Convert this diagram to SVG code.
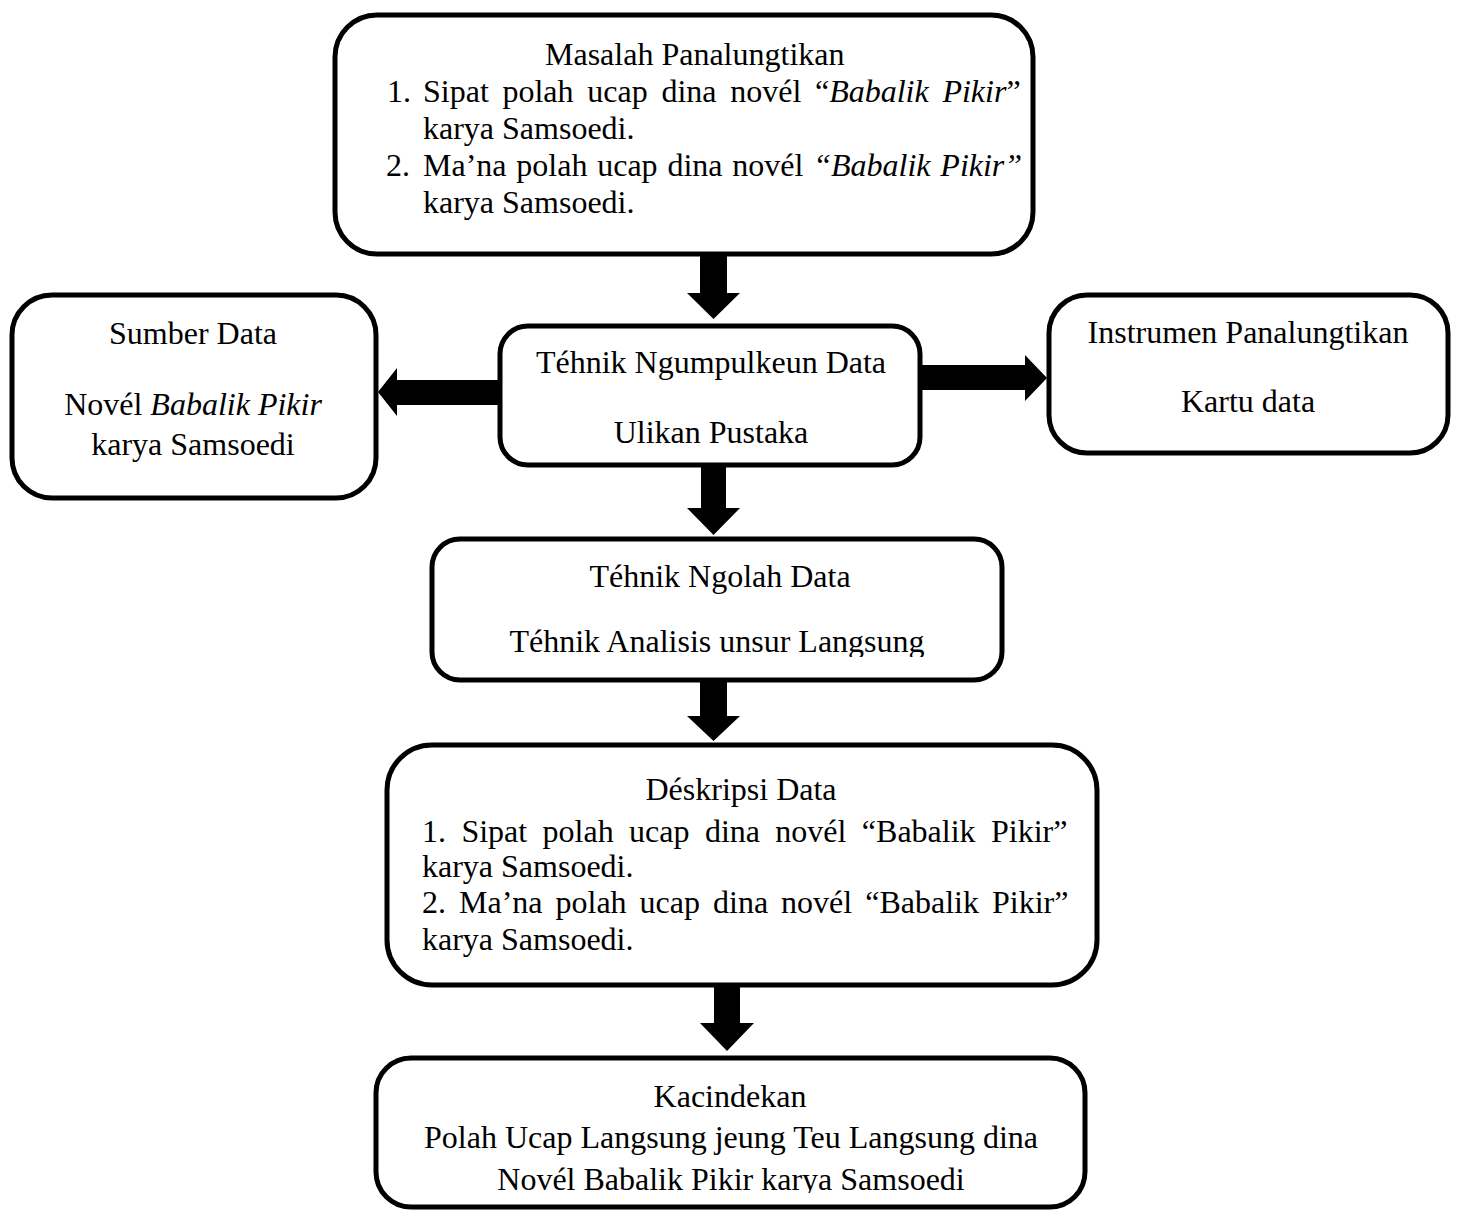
<svg xmlns="http://www.w3.org/2000/svg" width="1460" height="1211" viewBox="0 0 1460 1211">
<style>
.box{fill:#fff;stroke:#000;stroke-width:5}
.t{font-family:"Liberation Serif","Times New Roman",serif;font-size:32px;fill:#000}
.c{text-anchor:middle}
.i{font-style:italic}
.arr{fill:#000;stroke:none}
</style>
<defs>
<clipPath id="clipNgolah"><rect x="432" y="539" width="570" height="118"/></clipPath>
<clipPath id="clipKac"><rect x="376" y="1058" width="709" height="135"/></clipPath>
</defs>
<rect width="1460" height="1211" fill="#fff"/>
<g id="connectors">
<polygon class="arr" points="700,254 727,254 727,293 740,293 713.5,319 687,293 700,293"/>
<polygon class="arr" points="701,465 726,465 726,508 740,508 713.5,535 687,508 701,508"/>
<polygon class="arr" points="700,680 727,680 727,716 740,716 713.5,741 687,716 700,716"/>
<polygon class="arr" points="714,985 740,985 740,1023 754,1023 727,1051 700,1023 714,1023"/>
<polygon class="arr" points="500,380 397,380 397,368 378,392 397,416 397,405 500,405"/>
<polygon class="arr" points="920,365 1025,365 1025,355 1047,378 1025,401 1025,390 920,390"/>
</g>
<g id="masalah">
<rect class="box" x="335" y="15" width="698" height="239" rx="42"/>
<text class="t" x="545" y="65">Masalah Panalungtikan</text>
<text class="t" x="387" y="102">1.</text>
<text class="t" x="423" y="102" style="word-spacing:5.7px">Sipat polah ucap dina novél “<tspan class="i">Babalik Pikir</tspan>”</text>
<text class="t" x="423" y="139">karya Samsoedi.</text>
<text class="t" x="386" y="176">2.</text>
<text class="t" x="423" y="176" style="word-spacing:1.8px">Ma’na polah ucap dina novél <tspan class="i">“Babalik Pikir”</tspan></text>
<text class="t" x="423" y="213">karya Samsoedi.</text>
</g>
<g id="sumber">
<rect class="box" x="12" y="295" width="364" height="203" rx="40"/>
<text class="t c" x="193" y="344">Sumber Data</text>
<text class="t c" x="193" y="415">Novél <tspan class="i">Babalik Pikir</tspan></text>
<text class="t c" x="193" y="455">karya Samsoedi</text>
</g>
<g id="ngumpulkeun">
<rect class="box" x="500" y="326" width="420" height="139" rx="28"/>
<text class="t c" x="711" y="373">Téhnik Ngumpulkeun Data</text>
<text class="t c" x="711" y="443">Ulikan Pustaka</text>
</g>
<g id="instrumen">
<rect class="box" x="1049" y="295" width="399" height="158" rx="38"/>
<text class="t c" x="1248" y="343">Instrumen Panalungtikan</text>
<text class="t c" x="1248" y="412">Kartu data</text>
</g>
<g id="ngolah">
<rect class="box" x="432" y="539" width="570" height="141" rx="28"/>
<text class="t c" x="720" y="587">Téhnik Ngolah Data</text>
<text class="t c" x="717" y="652" clip-path="url(#clipNgolah)">Téhnik Analisis unsur Langsung</text>
</g>
<g id="deskripsi">
<rect class="box" x="387" y="745" width="710" height="240" rx="45"/>
<text class="t c" x="741" y="800">Déskripsi Data</text>
<text class="t" x="422" y="842" style="word-spacing:7.4px">1. Sipat polah ucap dina novél “Babalik Pikir”</text>
<text class="t" x="422" y="877">karya Samsoedi.</text>
<text class="t" x="422" y="913" style="word-spacing:5px">2. Ma’na polah ucap dina novél “Babalik Pikir”</text>
<text class="t" x="422" y="950">karya Samsoedi.</text>
</g>
<g id="kacindekan">
<rect class="box" x="376" y="1058" width="709" height="149" rx="35"/>
<text class="t c" x="730" y="1107">Kacindekan</text>
<text class="t c" x="731" y="1148">Polah Ucap Langsung jeung Teu Langsung dina</text>
<text class="t c" x="731" y="1190" clip-path="url(#clipKac)">Novél Babalik Pikir karya Samsoedi</text>
</g>
</svg>
